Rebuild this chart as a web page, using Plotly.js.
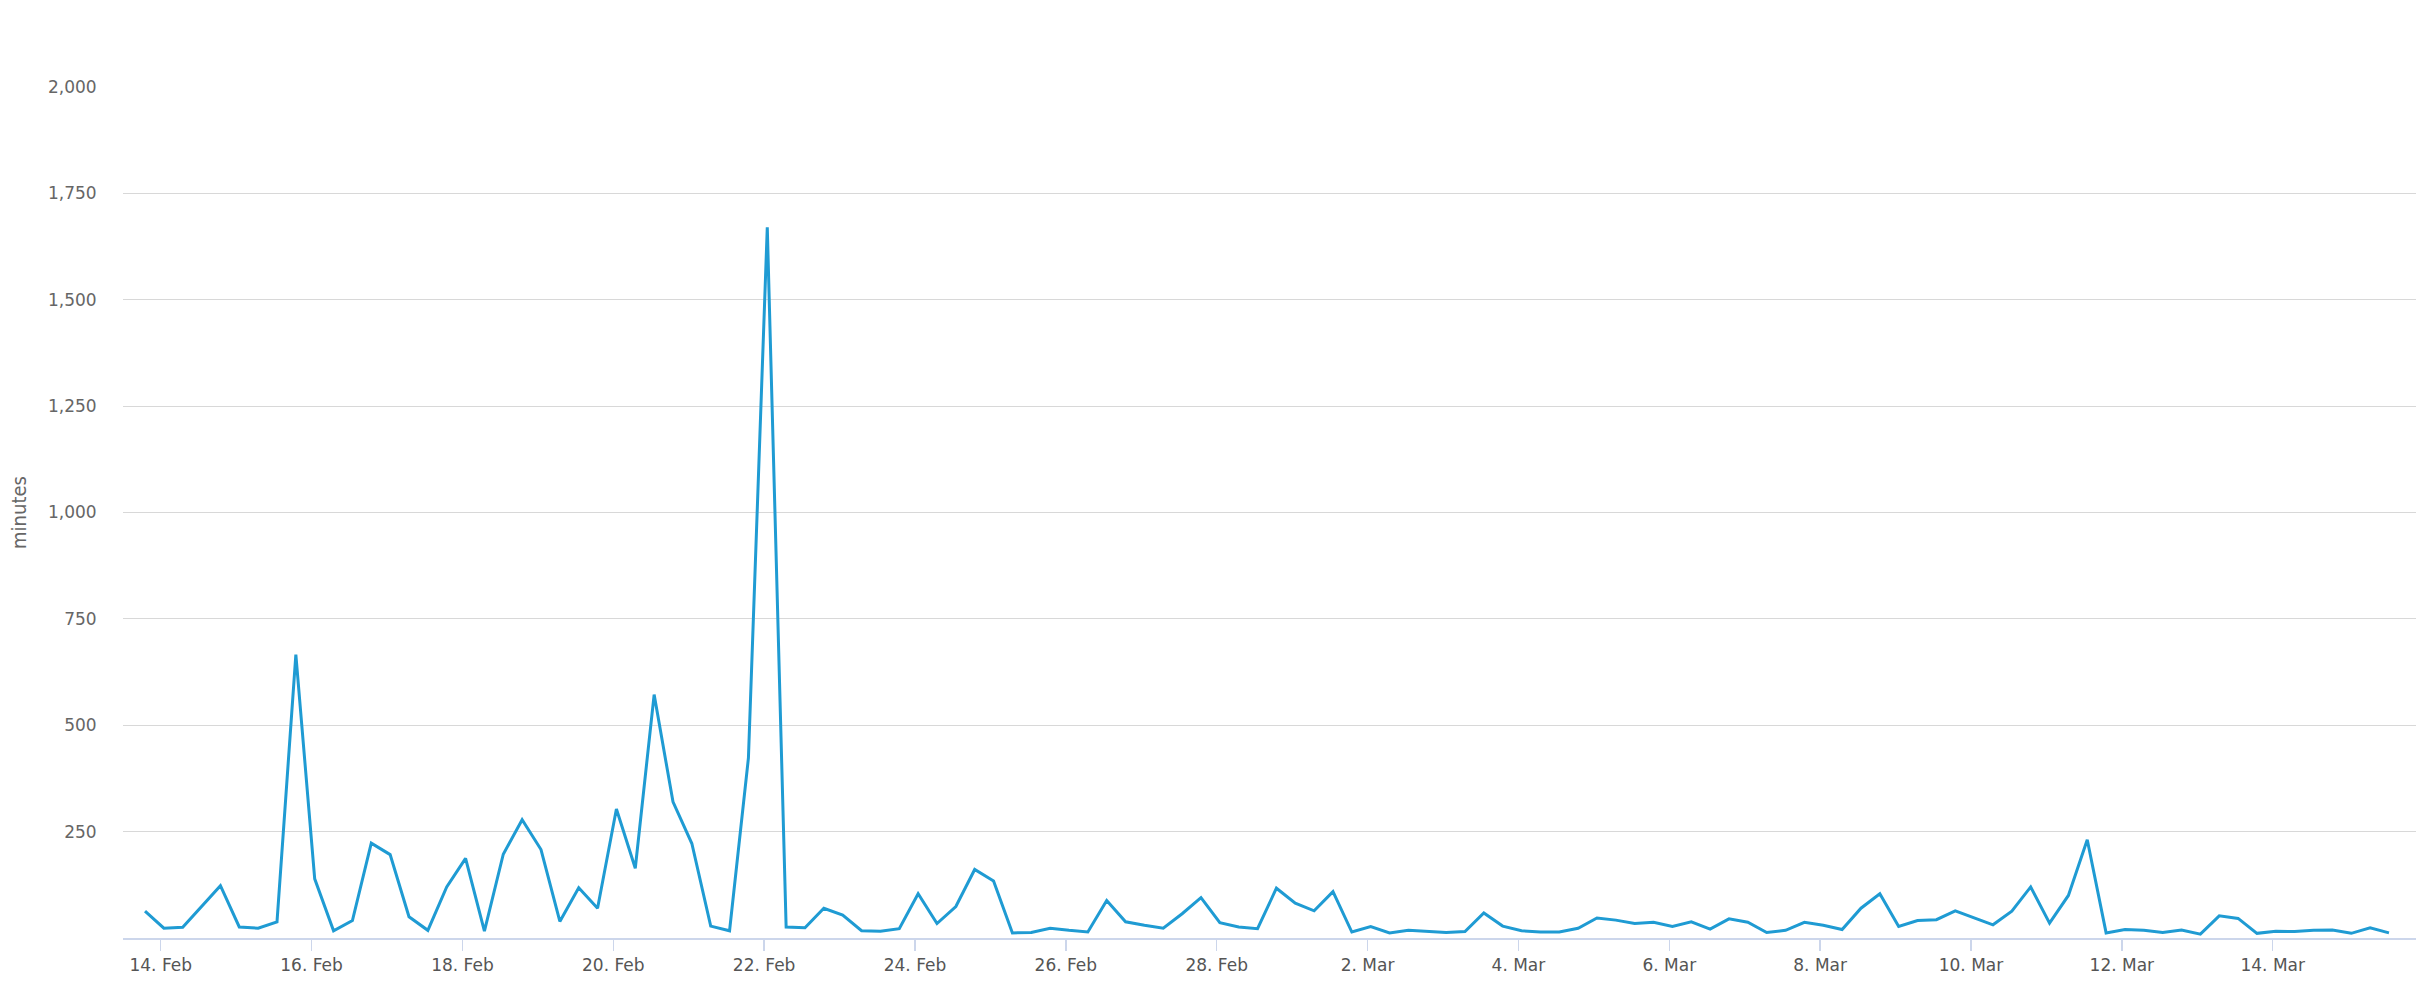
<!DOCTYPE html>
<html>
<head>
<meta charset="utf-8">
<script src="https://cdn.plot.ly/plotly-3.0.1.min.js"></script>
<style>
  html, body { margin: 0; padding: 0; background: #ffffff; }
  #chart { width: 2434px; height: 994px; }
</style>
</head>
<body>
<div id="chart"></div>
<script>
// Series: minutes per 6-hour bucket, starting 13 Feb 19:00
const seriesStart = "2017-02-13T19:00:00Z";
const stepHours = 6;
const minutes = [
  63, 23, 25, 74, 123, 26, 23, 38, 666, 139,
  17, 41, 223, 196, 50, 18, 120, 187, 16, 197,
  278, 208, 39, 118, 70, 303, 164, 572, 320, 222,
  28, 17, 423, 1670, 26, 24, 70, 54, 17, 16,
  22, 104, 34, 74, 161, 134, 12, 13, 23, 18,
  14, 88, 38, 30, 23, 57, 95, 36, 26, 22,
  117, 82, 64, 109, 14, 27, 12, 18, 15, 13,
  15, 59, 28, 17, 14, 14, 23, 47, 42, 34,
  37, 27, 38, 21, 45, 37, 13, 18, 37, 30,
  20, 70, 104, 27, 41, 43, 64, 47, 31, 63,
  120, 35, 100, 231, 12, 20, 18, 13, 19, 9,
  52, 46, 11, 16, 15, 18, 19, 11, 24, 12
];
const yTickVals = [250, 500, 750, 1000, 1250, 1500, 1750, 2000];
const yTickText = ["250", "500", "750", "1,000", "1,250", "1,500", "1,750", "2,000"];
const yTitle = "minutes";

const t0 = Date.parse(seriesStart);
const times = minutes.map((_, i) =>
  new Date(t0 + i * stepHours * 3600000).toISOString().slice(0, 16).replace("T", " ")
);

const trace = {
  type: "scatter",
  mode: "lines",
  x: times,
  y: minutes,
  line: { color: "#1f9bd3", width: 3 },
  hoverinfo: "x+y"
};

const layout = {
  width: 2434,
  height: 994,
  margin: { l: 123, r: 18, t: 87, b: 56 },
  paper_bgcolor: "#ffffff",
  plot_bgcolor: "#ffffff",
  showlegend: false,
  xaxis: {
    type: "date",
    range: ["2017-02-13 12:00", "2017-03-15 21:36"],
    tick0: "2017-02-14",
    dtick: 2 * 86400000,
    tickformat: "%-d. %b",
    showgrid: false,
    zeroline: false,
    showline: true,
    linecolor: "#ccd6eb",
    linewidth: 1.5,
    ticks: "outside",
    ticklen: 11,
    tickwidth: 1.5,
    tickcolor: "#ccd6eb",
    automargin: false,
    tickfont: { family: "DejaVu Sans, sans-serif", size: 17, color: "#555555" }
  },
  yaxis: {
    range: [0, 2000],
    tickmode: "array",
    tickvals: yTickVals,
    ticktext: yTickText,
    showgrid: true,
    gridcolor: "#d8d8d8",
    gridwidth: 1.2,
    zeroline: false,
    showline: false,
    ticks: "outside",
    ticklen: 22,
    tickcolor: "rgba(0,0,0,0)",
    automargin: true,
    tickfont: { family: "DejaVu Sans, sans-serif", size: 17, color: "#666666" },
    title: {
      text: yTitle,
      standoff: 15,
      font: { family: "DejaVu Sans Condensed, DejaVu Sans, sans-serif", size: 20, color: "#666666" }
    }
  }
};

Plotly.newPlot("chart", [trace], layout, { displayModeBar: false, staticPlot: true });
</script>
</body>
</html>
